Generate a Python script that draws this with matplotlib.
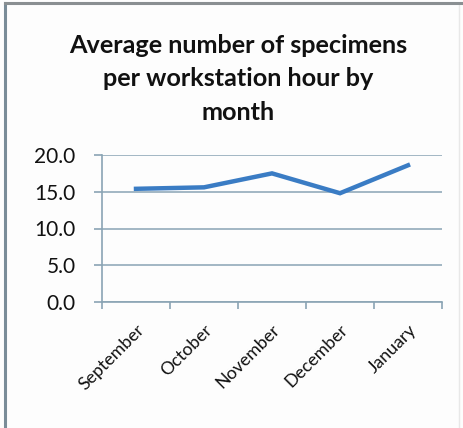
import matplotlib.pyplot as plt
from matplotlib.patches import Rectangle

# monthly averages, specimens per workstation hour
months = ['September', 'October', 'November', 'December', 'January']
avg_specimens = [15.4, 15.6, 17.5, 14.8, 18.6]
y_ticks = [0.0, 5.0, 10.0, 15.0, 20.0]

plt.rcParams['font.family'] = ['Lato', 'DejaVu Sans']

W, H = 464, 428
fig = plt.figure(figsize=(W / 100, H / 100), dpi=100)
fig.patch.set_facecolor('#fdfdfd')

# chart frame
fig.patches.append(Rectangle((5.5 / W, -0.01), 454 / W, 1 - 2.5 / H + 0.01,
                             transform=fig.transFigure, fill=False,
                             edgecolor='#e8e8e8', lw=1.0))
fig.add_artist(plt.Line2D([5.5 / W, 5.5 / W], [0, 1 - 2.5 / H],
                          transform=fig.transFigure, color='#7a8c98', lw=2.2))
fig.add_artist(plt.Line2D([5.5 / W, 1], [1 - 2.5 / H, 1 - 2.5 / H],
                          transform=fig.transFigure, color='#8a8f92', lw=2.2))

left, right = 102 / W, 442 / W
bottom, top = 1 - 302 / H, 1 - 155 / H
ax = fig.add_axes([left, bottom, right - left, top - bottom])
ax.set_facecolor('none')

x = list(range(len(months)))
ax.plot(x, avg_specimens, color='#3a7cc4', lw=3.2, solid_joinstyle='miter')

ax.set_xlim(-0.5, len(months) - 0.5)
ax.set_ylim(0, 20)
ax.set_yticks(y_ticks)
ax.set_yticklabels([f'{v:.1f}' for v in y_ticks], fontsize=15, color='#111111')
ax.grid(axis='y', color='#8aa4b4', lw=1.1)
ax.set_axisbelow(True)

# category ticks sit between the months, labels at the centers
ax.set_xticks([i - 0.5 for i in range(len(months) + 1)])
ax.set_xticklabels([])
ax.set_xticks(x, minor=True)
ax.set_xticklabels(months, minor=True, rotation=45, ha='right',
                   rotation_mode='anchor', fontsize=12.8, color='#111111')
ax.tick_params(axis='x', which='minor', length=0, pad=14)
ax.tick_params(axis='x', which='major', length=5, color='#8aa4b4', width=1.2)
ax.tick_params(axis='y', length=6, color='#8aa4b4', width=1.2, pad=13)

for side in ['top', 'right']:
    ax.spines[side].set_visible(False)
for side in ['left', 'bottom']:
    ax.spines[side].set_color('#8aa4b4')
    ax.spines[side].set_linewidth(1.2)

fig.text(238 / W, 1 - 79 / H,
         'Average number of specimens\nper workstation hour by\nmonth',
         ha='center', va='center', fontsize=18.2, fontweight='bold',
         color='#111111', linespacing=1.55)

fig.savefig('out.png', dpi=100, facecolor=fig.get_facecolor())
